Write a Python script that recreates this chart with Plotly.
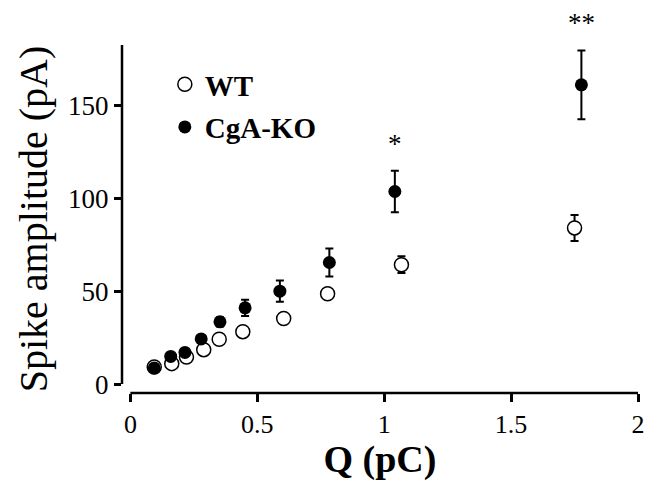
import plotly.graph_objects as go

# Data
wt_q = [0.094, 0.163, 0.221, 0.289, 0.350, 0.443, 0.604, 0.777, 1.068, 1.750]
wt_amp = [9.2, 11.0, 14.5, 18.5, 24.1, 28.2, 35.3, 48.6, 64.2, 84.0]
wt_err = [0.8, 0.9, 1.0, 1.2, 1.5, 1.8, 2.0, 2.5, 4.5, 7.0]

ko_q = [0.094, 0.159, 0.215, 0.279, 0.353, 0.452, 0.589, 0.784, 1.042, 1.777]
ko_amp = [8.7, 14.9, 17.0, 24.3, 33.5, 41.0, 50.0, 65.4, 103.6, 161.0]
ko_err = [0.8, 1.2, 1.5, 1.8, 2.5, 4.4, 5.7, 7.5, 11.2, 18.5]

sig_idx = [8, 9]
sig_text = ["*", "**"]

x_ticks = [0, 0.5, 1, 1.5, 2]
x_tick_labels = ["0", "0.5", "1", "1.5", "2"]
y_ticks = [0, 50, 100, 150]
y_tick_labels = ["0", "50", "100", "150"]

X_RANGE = [-0.033, 2.0]
Y_RANGE = [-4.8, 182.4]

SERIF = "Liberation Serif, Times New Roman, serif"

fig = go.Figure()

fig.add_trace(go.Scatter(
    x=wt_q, y=wt_amp, mode="markers", name="WT",
    marker=dict(symbol="circle", size=14, color="white",
                line=dict(color="black", width=1.5)),
    error_y=dict(type="data", array=wt_err, visible=True,
                 color="black", thickness=2, width=4),
    legendgroup="wt", cliponaxis=False,
))
fig.add_trace(go.Scatter(
    x=ko_q, y=ko_amp, mode="markers", name="CgA-KO",
    marker=dict(symbol="circle", size=13, color="black",
                line=dict(color="black", width=0)),
    error_y=dict(type="data", array=ko_err, visible=True,
                 color="black", thickness=2, width=4),
    legendgroup="ko", cliponaxis=False,
))

# significance stars above KO error bars
for i, t in zip(sig_idx, sig_text):
    fig.add_annotation(
        x=ko_q[i], y=ko_amp[i] + ko_err[i], xref="x", yref="y",
        text=t, showarrow=False, yanchor="middle", yshift=27,
        font=dict(family=SERIF, size=27, color="black"),
    )

# offset axis lines
fig.add_shape(type="line", xref="paper", yref="y", x0=0, x1=0,
              y0=0, y1=Y_RANGE[1], line=dict(color="black", width=2.5))
fig.add_shape(type="line", xref="x", yref="paper", x0=0, x1=x_ticks[-1],
              y0=0, y1=0, line=dict(color="black", width=2.5))

fig.update_layout(
    width=657, height=481,
    margin=dict(l=122, r=14, t=45, b=86),
    paper_bgcolor="white", plot_bgcolor="white",
    font=dict(family=SERIF, color="black"),
    showlegend=True,
    legend=dict(x=0.083, y=0.96, xanchor="left", yanchor="top",
                bgcolor="rgba(0,0,0,0)",
                font=dict(family=SERIF, size=29, color="black",
                          weight="bold"),
                tracegroupgap=2, itemsizing="trace"),
    xaxis=dict(range=X_RANGE, tickvals=x_ticks, ticktext=x_tick_labels,
               showgrid=False, zeroline=False, showline=False,
               ticks="outside", ticklen=8, tickwidth=2.5, tickcolor="black",
               tickfont=dict(family=SERIF, size=26, color="black"),
               title=dict(text="<b>Q (pC)</b>", standoff=3,
                          font=dict(family=SERIF, size=38, color="black"))),
    yaxis=dict(range=Y_RANGE, tickvals=y_ticks, ticktext=y_tick_labels,
               showgrid=False, zeroline=False, showline=False,
               ticks="outside", ticklen=7, tickwidth=2.5, tickcolor="black",
               tickfont=dict(family=SERIF, size=27, color="black"),
               title=dict(text="Spike amplitude (pA)", standoff=8,
                          font=dict(family=SERIF, size=40, color="black"))),
)

fig.write_html("out.html")
